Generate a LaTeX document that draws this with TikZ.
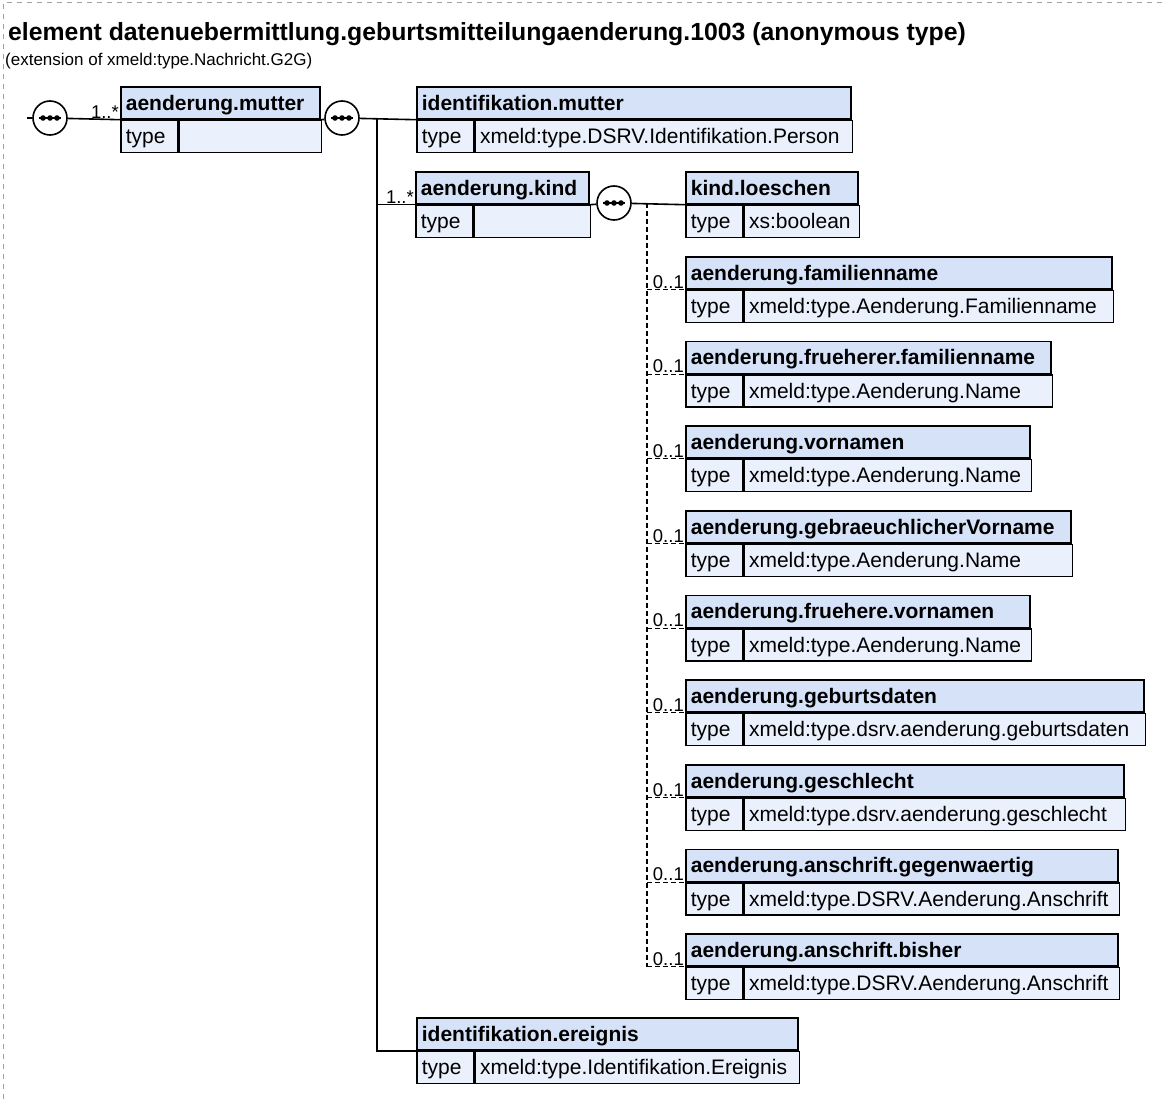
\documentclass[tikz,border=0pt]{standalone}
\usepackage{fontspec}
\setmainfont{Liberation Sans}
\definecolor{hdrfill}{HTML}{D5E2F8}
\definecolor{valfill}{HTML}{EAF1FC}
\definecolor{framecol}{HTML}{A0A0A0}
\tikzset{
  hdrbox/.style={draw=black, fill=hdrfill, line width=1.7pt, inner xsep=5pt, inner ysep=0pt,
    minimum height=32pt, text height=16.5pt, text depth=2pt, align=left,
    font=\bfseries\fontsize{21}{24}\selectfont, anchor=north west},
  cellbox/.style={draw=black, fill=valfill, line width=1.7pt, inner xsep=5pt, inner ysep=0pt,
    minimum height=32pt, text height=16.5pt, text depth=2pt, align=left,
    font=\fontsize{21}{24}\selectfont, anchor=north west},
  seq/.style={circle, draw=black, fill=white, line width=1.6pt, minimum size=34pt, inner sep=0pt},
  seqbar/.style={line width=1.5pt},
  seqdot/.style={fill=black},
  conn/.style={line width=1.6pt},
  optconn/.style={line width=1.3pt, dash pattern=on 5pt off 3pt},
  mult/.style={font=\fontsize{18.5}{21}\selectfont, inner sep=1pt, anchor=south east},
}
\newcommand\xsdbox[6]{%
  \pgfmathsetmacro\xbw{#4-10}%
  \pgfmathsetmacro\xvw{#4-66.5}%
  \node[hdrbox, text width=\xbw pt] (#1) at (#2,#3) {#5};
  \node[cellbox, text width=46.5pt] (#1t) at (#1.south west) {type};
  \node[cellbox, text width=\xvw pt] (#1v) at (#1t.north east) {#6};
}
\newcommand\seqmark[1]{%
  \draw[seqbar] ([xshift=-11pt]#1.center) -- ([xshift=11pt]#1.center);
  \fill[seqdot] ([xshift=-7pt]#1.center) circle (2.8pt);
  \fill[seqdot] (#1.center) circle (2.8pt);
  \fill[seqdot] ([xshift=7pt]#1.center) circle (2.8pt);
}
\begin{document}
\begin{tikzpicture}[x=1pt,y=-1pt]
\useasboundingbox (0,0) rectangle (1164,1099);
\draw[framecol, line width=1pt, dash pattern=on 5pt off 5pt] (3,1099) -- (3,3) -- (1164,3);

\node[anchor=base west, inner sep=0pt, font=\bfseries\fontsize{24.8}{28}\selectfont] (title) at (8,41)
  {element datenuebermittlung.geburtsmitteilungaenderung.1003 (anonymous type)};
\node[anchor=base west, inner sep=0pt, font=\fontsize{17}{20}\selectfont] (sub) at (5,66)
  {(extension of xmeld:type.Nachricht.G2G)};

\xsdbox{b1}{120}{86}{199}{aenderung.mutter}{}
\xsdbox{b2}{416}{86}{434}{identifikation.mutter}{xmeld:type.DSRV.Identifikation.Person}
\xsdbox{b3}{415}{171}{173}{aenderung.kind}{}
\xsdbox{b4}{685}{171}{172}{kind.loeschen}{xs:boolean}
\xsdbox{b5}{685}{256}{426}{aenderung.familienname}{xmeld:type.Aenderung.Familienname}
\xsdbox{b6}{685}{340.5}{365}{aenderung.frueherer.familienname}{xmeld:type.Aenderung.Name}
\xsdbox{b7}{685}{425}{344}{aenderung.vornamen}{xmeld:type.Aenderung.Name}
\xsdbox{b8}{685}{510}{385}{aenderung.gebraeuchlicherVorname}{xmeld:type.Aenderung.Name}
\xsdbox{b9}{685}{594.5}{344}{aenderung.fruehere.vornamen}{xmeld:type.Aenderung.Name}
\xsdbox{b10}{685}{679}{458}{aenderung.geburtsdaten}{xmeld:type.dsrv.aenderung.geburtsdaten}
\xsdbox{b11}{685}{764}{438}{aenderung.geschlecht}{xmeld:type.dsrv.aenderung.geschlecht}
\xsdbox{b12}{685}{848.5}{432}{aenderung.anschrift.gegenwaertig}{xmeld:type.DSRV.Aenderung.Anschrift}
\xsdbox{b13}{685}{933}{432}{aenderung.anschrift.bisher}{xmeld:type.DSRV.Aenderung.Anschrift}
\xsdbox{b14}{416}{1017}{381}{identifikation.ereignis}{xmeld:type.Identifikation.Ereignis}

\node[seq] (s1) at (50,118) {};
\node[seq] (s2) at (342,118) {};
\node[seq] (s3) at (614,203) {};
\seqmark{s1}
\seqmark{s2}
\seqmark{s3}

\coordinate (start) at (27,118);
\draw[conn] (start) -- (s1);
\draw[conn] (s1) -- (b1.south west);
\node[mult] (m1) at (b1.south west) {1..*};
\draw[conn] (b1.south east) -- (s2);
\draw[conn] (s2) -- (b2.south west);
\coordinate (br) at (377,118);
\draw[conn] (br) |- (b3.south west);
\draw[conn] (br) |- (b14.south west);
\node[mult] (m3) at (b3.south west) {1..*};
\draw[conn] (b3.south east) -- (s3);
\draw[conn] (s3) -- (b4.south west);
\coordinate (opt) at (647,203);
\draw[optconn] (opt) -- (opt |- b13.south west);
\foreach \k in {5,...,13} {
  \draw[optconn] (opt |- b\k.south west) -- (b\k.south west);
  \node[mult] (o\k) at (b\k.south west) {0..1};
}
\end{tikzpicture}
\end{document}
